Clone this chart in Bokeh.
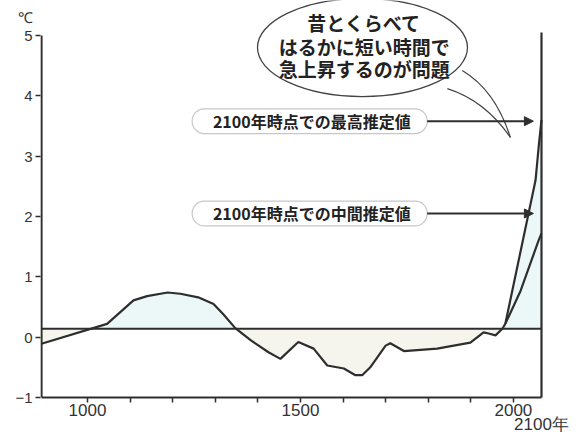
import numpy as np
from bokeh.plotting import figure
from bokeh.models import Range1d, FixedTicker, LinearAxis, BoxAnnotation, Arrow, NormalHead
from bokeh.core.properties import value
from bokeh.embed import file_html
from bokeh.resources import INLINE

# ---- data ----
years = [892, 1046, 1108, 1140, 1188, 1218, 1260, 1296, 1320, 1347, 1383, 1425, 1453,
         1495, 1531, 1563, 1602, 1629, 1645, 1664, 1700, 1711, 1743, 1821, 1899, 1930,
         1942, 1958, 1974, 1981]
temps = [-0.11, 0.22, 0.61, 0.68, 0.74, 0.72, 0.66, 0.55, 0.37, 0.15, -0.05, -0.25, -0.36,
         -0.08, -0.19, -0.47, -0.52, -0.63, -0.63, -0.50, -0.14, -0.10, -0.23, -0.19, -0.09, 0.08,
         0.06, 0.03, 0.14, 0.22]
high_years = [1981, 2052, 2060, 2066]
high_temps = [0.22, 2.60, 3.20, 3.60]
mid_years = [1981, 2017, 2059, 2066]
mid_temps = [0.22, 0.77, 1.60, 1.72]
baseline = 0.14
start_year = 892
end_year = 2066
y_ticks = [-1, 0, 1, 2, 3, 4, 5]
unit_pos = 5.3
x_label_ticks = [1000, 1500, 2000]
x_minor_ticks = [1100, 1200, 1300, 1400, 1600, 1700, 1800, 1900]
bubble_lines = ["昔とくらべて", "はるかに短い時間で", "急上昇するのが問題"]
box_texts = ["2100年時点での最高推定値", "2100年時点での中間推定値"]
box_values = [3.58, 2.05]

INK = "#2e2e2e"
JP = "Noto Sans CJK JP"
LAT = "Liberation Sans"

p = figure(width=580, height=438, x_range=Range1d(889.7, 2075.4), y_range=Range1d(-1, 5.58),
           output_backend="svg", toolbar_location=None,
           min_border_left=40, min_border_right=35, min_border_top=0, min_border_bottom=41)
p.background_fill_color = "white"
p.border_fill_color = "white"
p.outline_line_color = None
p.xgrid.visible = False
p.ygrid.visible = False

# ---- fill between curve and baseline ----
fx = list(years) + high_years[1:]
fy = list(temps) + high_temps[1:]
xs2, ys2 = [fx[0]], [fy[0]]
for i in range(1, len(fx)):
    a, b = fy[i - 1] - baseline, fy[i] - baseline
    if a * b < 0:
        t = a / (a - b)
        xs2.append(fx[i - 1] + t * (fx[i] - fx[i - 1]))
        ys2.append(baseline)
    xs2.append(fx[i]); ys2.append(fy[i])
xs2 = np.array(xs2); ys2 = np.array(ys2)
p.varea(x=xs2, y1=np.full_like(ys2, baseline), y2=np.maximum(ys2, baseline),
        fill_color="#ecf8f8")
p.varea(x=xs2, y1=np.full_like(ys2, baseline), y2=np.minimum(ys2, baseline),
        fill_color="#f5f5ed")

# ---- lines ----
p.line([start_year, end_year], [baseline, baseline], line_color=INK, line_width=2)
p.line(years, temps, line_color=INK, line_width=2.2)
p.line(high_years, high_temps, line_color=INK, line_width=2.2)
p.line(mid_years, mid_temps, line_color=INK, line_width=2.2)
p.segment(x0=[end_year], y0=[-1.05], x1=[end_year], y1=[5.05], line_color=INK, line_width=2.2)
# left axis line (drawn over the frame so the unit label can sit above it)
p.segment(x0=[start_year], y0=[y_ticks[0]], x1=[start_year], y1=[y_ticks[-1]],
          line_color=INK, line_width=2.2)

# ---- axes ----
xa = p.xaxis[0]
xa.ticker = FixedTicker(ticks=x_label_ticks, minor_ticks=x_minor_ticks)
xa.bounds = (start_year, end_year)
xa.axis_line_width = 2
xa.axis_line_color = INK
xa.major_tick_out = 5
xa.major_tick_in = 0
xa.minor_tick_out = 5
xa.minor_tick_in = 0
xa.major_tick_line_width = 1.5
xa.minor_tick_line_width = 1.5
xa.major_tick_line_color = INK
xa.minor_tick_line_color = INK
xa.major_label_text_font = LAT
xa.major_label_text_font_size = "17px"
xa.major_label_text_color = "#333"
xa.major_label_standoff = 1

xa2 = LinearAxis(ticker=FixedTicker(ticks=[end_year]),
                 major_label_overrides={end_year: "2100年"})
xa2.axis_line_color = None
xa2.major_tick_line_color = None
xa2.minor_tick_line_color = None
xa2.major_tick_out = 0
xa2.major_tick_in = 0
xa2.major_label_standoff = -4
xa2.major_label_text_font = LAT
xa2.major_label_text_font_size = "17px"
xa2.major_label_text_color = "#333"
p.add_layout(xa2, "below")

ya = p.yaxis[0]
ya.ticker = FixedTicker(ticks=y_ticks + [unit_pos], minor_ticks=y_ticks)
ya.bounds = (-1, unit_pos + 0.05)
ya.axis_line_color = None
ya.major_tick_out = 5
ya.major_tick_in = 0
ya.major_tick_line_color = None
ya.minor_tick_out = 5
ya.minor_tick_in = 0
ya.minor_tick_line_width = 1.5
ya.minor_tick_line_color = INK
ya.major_label_text_font = LAT
ya.major_label_text_font_size = "15px"
ya.major_label_text_color = "#333"
ya.major_label_standoff = 3
ya.major_label_overrides = {-1: "−1", unit_pos: "℃"}

# ---- estimate boxes with arrows ----
box_left, box_right, box_half = 1245.8, 1797.6, 0.205
for txt, v in zip(box_texts, box_values):
    p.add_layout(BoxAnnotation(left=box_left, right=box_right, bottom=v - box_half, top=v + box_half,
                               fill_color="white", fill_alpha=1.0, line_color="#444",
                               line_width=1.2, border_radius=12, level="underlay"))
    p.add_layout(Arrow(end=NormalHead(size=9, fill_color=INK, line_color=INK),
                       x_start=box_right, y_start=v, x_end=2047, y_end=v,
                       line_color=INK, line_width=2))
p.text(x=[(box_left + box_right) / 2 + 5] * 2, y=box_values, text=box_texts,
       text_font=value(JP), text_font_size="16px", text_font_style="bold",
       text_color="#222", text_align="center", text_baseline="middle")

# ---- speech bubble ----
bx, by = 1645.7, 4.80
p.quadratic(x0=[1845, 1880], y0=[4.12, 4.42], x1=[1993, 1993], y1=[3.31, 3.31],
            cx=[1934, 1958], cy=[3.92, 4.09], line_color="#444", line_width=1.2)
p.ellipse(x=[bx], y=[by], width=210, height=98, width_units="screen", height_units="screen",
          fill_color="white", line_color="#444", line_width=1.3)
p.text(x=[1650] * 3, y=[5.21, 4.81, 4.45], text=bubble_lines, text_font=value(JP),
       text_font_size="19px", text_font_style="bold", text_color="#222",
       text_align="center", text_baseline="middle")

open("out.html", "w").write(file_html(p, INLINE))
